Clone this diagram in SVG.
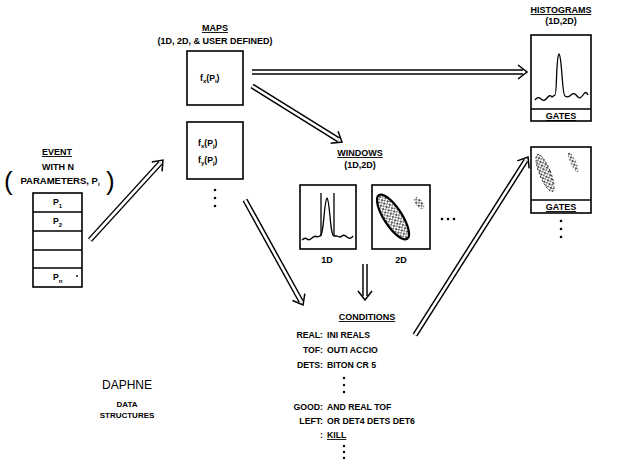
<svg xmlns="http://www.w3.org/2000/svg" width="619" height="463" viewBox="0 0 619 463">
<style>
text{font-family:"Liberation Sans",Arial,sans-serif;font-weight:bold;fill:#000}
.lbl{font-size:9px;text-anchor:middle}
.t{font-size:8.7px}
.box{fill:#fff;stroke:#000;stroke-width:1.6}
.ln{fill:none;stroke:#000;stroke-width:1.3}
.dbl{fill:none;stroke:#000;stroke-width:5.5}
.dbin{fill:none;stroke:#fff;stroke-width:2.6;marker-end:url(#chev)}
.dot{fill:#000}
</style>
<defs>
<marker id="chev" markerUnits="userSpaceOnUse" markerWidth="14" markerHeight="16" refX="5" refY="7" orient="auto" viewBox="-1 -1 14 16">
<path d="M0,0 L9,7 L0,14" fill="none" stroke="#000" stroke-width="1.5"/>
</marker>
<pattern id="speck" width="4" height="4" patternUnits="userSpaceOnUse">
<rect width="4" height="4" fill="#fff"/>
<circle cx="1" cy="1" r="0.9" fill="#000"/>
<circle cx="3" cy="2.8" r="0.8" fill="#000"/>
</pattern>
</defs>

<g id="connectors">
<path class="dbl" d="M90,240 L160.3,163"/><path class="dbin" d="M90,240 L160.3,163"/>
<path class="dbl" d="M252,72 L523,72"/><path class="dbin" d="M252,72 L523,72"/>
<path class="dbl" d="M252,86 L338.6,139.9"/><path class="dbin" d="M252,86 L338.6,139.9"/>
<path class="dbl" d="M245,200 L301.1,301.5"/><path class="dbin" d="M245,200 L301.1,301.5"/>
<path class="dbl" d="M365,264 L365,296"/><path class="dbin" d="M365,264 L365,296"/>
<path class="dbl" d="M415,335 L525.9,160.4"/><path class="dbin" d="M415,335 L525.9,160.4"/>
</g>

<g id="event">
<text class="lbl" x="57" y="155" text-decoration="underline">EVENT</text>
<text class="lbl" x="58" y="170">WITH N</text>
<text class="lbl" x="60" y="184" style="font-size:9.5px">PARAMETERS, P<tspan font-size="6" dy="2">i</tspan></text>
<text x="4" y="190" style="font-size:26px;font-weight:normal">(</text>
<text x="106" y="190" style="font-size:26px;font-weight:normal">)</text>
<rect class="box" x="33" y="193" width="49" height="94"/>
<path class="ln" d="M33,212 H82 M33,231 H82 M33,250 H82 M33,268 H82"/>
<text class="t" x="53" y="205">P<tspan font-size="6" dy="3">1</tspan></text>
<text class="t" x="53" y="224">P<tspan font-size="6" dy="3">2</tspan></text>
<text class="t" x="53" y="280">P<tspan font-size="6" dy="3">n</tspan></text>
<circle class="dot" cx="77" cy="276" r="0.9"/>
</g>

<g id="maps">
<text class="lbl" x="215" y="31" text-decoration="underline">MAPS</text>
<text class="lbl" x="215" y="44">(1D, 2D, &amp; USER DEFINED)</text>
<rect class="box" x="187" y="51" width="56" height="54"/>
<text class="t" x="200" y="81">f<tspan font-size="6" dy="2">x</tspan><tspan dy="-2">(P</tspan><tspan font-size="6" dy="2">i</tspan><tspan dy="-2">)</tspan></text>
</g>

<g id="maps2">
<rect class="box" x="187" y="122" width="56" height="57"/>
<text class="t" x="198" y="146">f<tspan font-size="6" dy="2">x</tspan><tspan dy="-2">(P</tspan><tspan font-size="6" dy="2">j</tspan><tspan dy="-2">)</tspan></text>
<text class="t" x="198" y="163">f<tspan font-size="6" dy="2">y</tspan><tspan dy="-2">(P</tspan><tspan font-size="6" dy="2">j</tspan><tspan dy="-2">)</tspan></text>
<circle class="dot" cx="215" cy="190" r="1.3"/><circle class="dot" cx="215" cy="198" r="1.3"/><circle class="dot" cx="215" cy="206" r="1.3"/>
</g>

<g id="windows">
<text class="lbl" x="360" y="156" text-decoration="underline">WINDOWS</text>
<text class="lbl" x="360" y="168">(1D,2D)</text>
<rect class="box" x="300" y="185" width="56" height="64"/>
<path class="ln" d="M302,240 q3,-3 5,-1 t5,-1 t5,-1 l3,-1 C324,236 324,200 327,198 C330,200 330,236 334,236 l3,0 q3,2 5,0 t5,1 t6,-1"/>
<path class="ln" d="M321,193 V236 M334,193 V236"/>
<text class="lbl" x="327" y="263">1D</text>
<rect class="box" x="372" y="185" width="58" height="64"/>
<ellipse cx="393" cy="217" rx="9" ry="26" transform="rotate(-33 393 217)" fill="url(#speck)" stroke="#000" stroke-width="2.2"/>
<ellipse cx="419" cy="203" rx="3.5" ry="7" transform="rotate(-40 419 203)" fill="url(#speck)"/>
<text class="lbl" x="401" y="263">2D</text>
<circle class="dot" cx="442" cy="219" r="1.3"/><circle class="dot" cx="448" cy="219" r="1.3"/><circle class="dot" cx="454" cy="219" r="1.3"/>
</g>

<g id="histograms">
<text class="lbl" x="561" y="13" text-decoration="underline">HISTOGRAMS</text>
<text class="lbl" x="561" y="24">(1D,2D)</text>
<rect class="box" x="531" y="35" width="60" height="86"/>
<path class="ln" d="M531,109 H591"/>
<text class="lbl" x="561" y="119" text-decoration="underline">GATES</text>
<path class="ln" d="M535,100 q3,-4 6,-1 t6,-1 t5,-1 l3,-2 C557,95 556,56 559,54 C562,56 562,95 565,96 q3,2 6,-1 t6,1 t6,-1 t5,0"/>
</g>

<g id="histograms2">
<rect class="box" x="531" y="147" width="60" height="66"/>
<path class="ln" d="M531,200 H591"/>
<text class="lbl" x="561" y="210" text-decoration="underline">GATES</text>
<ellipse cx="545" cy="173" rx="5.5" ry="20" transform="rotate(-22 545 173)" fill="url(#speck)" stroke="#000" stroke-width="0.8" stroke-dasharray="2 2"/>
<ellipse cx="573" cy="162" rx="3" ry="11" transform="rotate(-25 573 162)" fill="url(#speck)"/>
<circle class="dot" cx="561" cy="221" r="1.3"/><circle class="dot" cx="561" cy="229" r="1.3"/><circle class="dot" cx="561" cy="237" r="1.3"/>
</g>

<g id="conditions">
<text class="lbl" x="367" y="320" text-decoration="underline">CONDITIONS</text>
<text class="t" x="323" y="338" text-anchor="end">REAL:</text>
<text class="t" x="323" y="353" text-anchor="end">TOF:</text>
<text class="t" x="323" y="368" text-anchor="end">DETS:</text>
<text class="t" x="323" y="410" text-anchor="end">GOOD:</text>
<text class="t" x="323" y="424" text-anchor="end">LEFT:</text>
<text class="t" x="323" y="438" text-anchor="end">:</text>
<text class="t" x="327" y="338">INI REALS</text>
<text class="t" x="327" y="353">OUTI ACCIO</text>
<text class="t" x="327" y="368">BITON CR 5</text>
<text class="t" x="327" y="410">AND REAL TOF</text>
<text class="t" x="327" y="424">OR DET4 DETS DET6</text>
<text class="t" x="327" y="438" text-decoration="underline">KILL</text>
<circle class="dot" cx="344" cy="378" r="1.2"/><circle class="dot" cx="344" cy="385" r="1.2"/><circle class="dot" cx="344" cy="392" r="1.2"/>
<circle class="dot" cx="344" cy="446" r="1.2"/><circle class="dot" cx="344" cy="452" r="1.2"/><circle class="dot" cx="344" cy="458" r="1.2"/>
</g>

<g id="title">
<text x="127" y="389" style="font-size:12px;font-weight:normal;text-anchor:middle">DAPHNE</text>
<text class="lbl" x="127" y="407" style="font-size:8px">DATA</text>
<text class="lbl" x="127" y="418" style="font-size:8px">STRUCTURES</text>
</g>
</svg>
